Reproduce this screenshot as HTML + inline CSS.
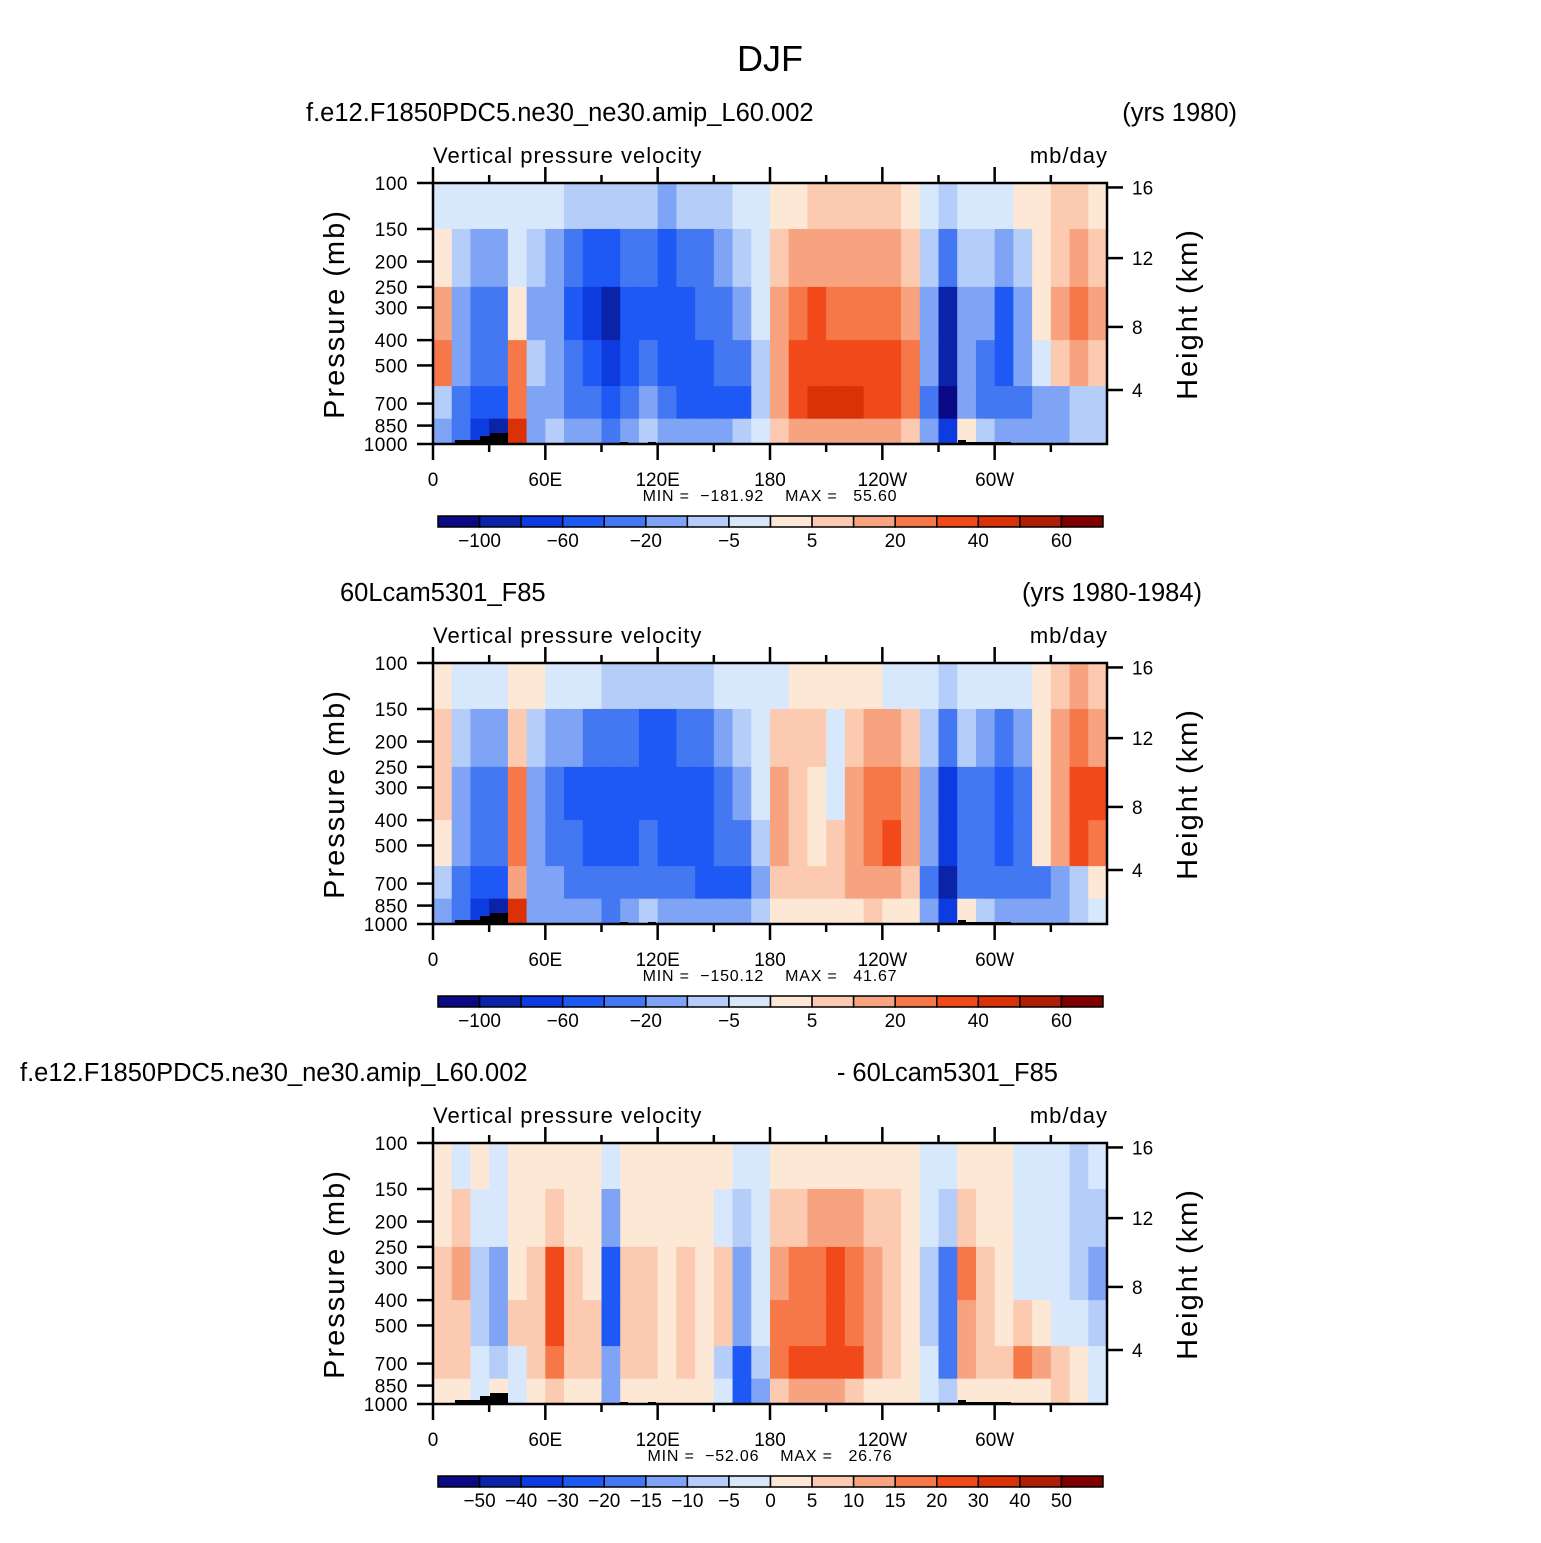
<!DOCTYPE html>
<html><head><meta charset="utf-8">
<style>
html,body{margin:0;padding:0;background:#fff;}
svg text{font-family:"Liberation Sans",sans-serif;fill:#000;}
</style></head>
<body>
<svg id="fig" width="1541" height="1538" xmlns="http://www.w3.org/2000/svg">
<text x="770" y="71" font-size="36" text-anchor="middle">DJF</text>
</svg>
<script>
const lonEdges = [0,10,20,30,40,50,60,70,80,90,100,110,120,130,140,150,160,170,180,190,200,210,220,230,240,250,260,270,280,290,300,310,320,330,340,350,360];
const presEdges = [100,150,250,400,600,800,1000];
const pTicks = [100,150,200,250,300,400,500,700,850,1000];
const hTicks = [16,12,8,4];
const hTickPres = [104,194,356,621];
const lonTickLabels = ["0","60E","120E","180","120W","60W"];
const lonTickVals = [0,60,120,180,240,300];
const levelsA = [-100,-80,-60,-40,-20,-10,-5,0,5,10,20,30,40,50,60];
const levelLabelsA = ["-100","-60","-20","-5","5","20","40","60"];
const levelsB = [-50,-40,-30,-20,-15,-10,-5,0,5,10,15,20,30,40,50];
const colors = ["#0a0a87","#0a23a8","#0d3be0","#1e58f5","#4478f2","#7fa3f5","#b5cef9","#d8e8fc","#fde7d5","#fbcab0","#f8a37f","#f67747","#f2491a","#d93206","#b01e04","#800000"];

const topR0=[-3,-3,-3,-3,-3,-3,-3,-7,-7,-7,-7,-7,-12,-7,-7,-7,-3,-3,3,3,7,7,7,7,7,3,-3,-7,-3,-3,-3,3,3,7,7,3];
const topR1=[3,-7,-15,-15,-3,-7,-15,-30,-50,-50,-30,-30,-50,-30,-30,-15,-7,-3,7,15,15,15,15,15,15,7,-7,-30,-7,-7,-15,-7,3,7,15,7];
const topR2=[15,-15,-30,-30,3,-15,-15,-50,-70,-90,-45,-45,-50,-45,-30,-30,-15,-3,15,25,35,25,25,25,25,15,-15,-90,-15,-15,-45,-15,3,15,25,15];
const topR3=[25,-15,-35,-35,25,-7,-15,-35,-50,-70,-45,-35,-45,-50,-45,-35,-30,-7,15,35,35,35,35,35,35,25,-15,-90,-15,-30,-45,-15,-3,7,15,7];
const topR4=[-7,-30,-50,-50,25,-15,-15,-35,-30,-45,-35,-15,-35,-45,-45,-55,-50,-7,15,35,45,45,45,35,35,25,-30,-110,-15,-30,-30,-30,-15,-15,-7,-7];
const topR5=[-15,-35,-70,-90,45,-15,-7,-15,-15,-30,-15,-7,-15,-15,-15,-15,-7,-3,7,15,15,15,15,15,15,7,-15,-70,3,-7,-15,-15,-15,-15,-7,-7];

const midR0=[3,-3,-3,-3,3,3,-3,-3,-3,-7,-7,-7,-7,-7,-7,-3,-3,-3,-3,3,3,3,3,3,-3,-3,-3,-7,-3,-3,-3,-3,3,7,15,7];
const midR1=[7,-7,-15,-15,7,-7,-15,-15,-30,-30,-30,-45,-45,-30,-30,-15,-7,-3,7,7,7,-3,7,15,15,7,-7,-30,-7,-15,-30,-15,3,15,25,15];
const midR2=[7,-15,-30,-30,25,-15,-30,-45,-45,-55,-45,-55,-50,-45,-45,-30,-15,-3,15,7,3,-3,15,25,25,15,-15,-70,-30,-30,-45,-30,3,15,35,35];
const midR3=[3,-15,-35,-35,25,-15,-30,-35,-45,-55,-45,-40,-45,-50,-45,-35,-30,-7,15,7,3,7,15,25,30,15,-15,-70,-30,-30,-45,-30,3,15,30,25];
const midR4=[-7,-30,-50,-50,15,-15,-15,-35,-30,-40,-35,-30,-35,-40,-45,-50,-45,-15,7,7,7,7,15,15,15,7,-30,-100,-30,-30,-40,-40,-30,-15,-7,3];
const midR5=[-15,-35,-70,-90,40,-15,-15,-15,-15,-30,-15,-7,-15,-15,-15,-20,-15,-7,3,3,3,3,3,7,3,3,-15,-70,3,-7,-15,-15,-15,-15,-7,-3];

const difR0=[3,-3,3,-3,3,3,3,3,3,-3,3,3,3,3,3,3,-3,-3,3,3,3,3,3,3,3,3,-3,-3,3,3,3,-3,-3,-3,-7,-3];
const difR1=[3,7,-3,-3,3,3,7,3,3,-15,3,3,3,3,3,-3,-7,-3,7,7,12,12,12,7,7,3,-3,-7,7,3,3,-3,-3,-3,-7,-7];
const difR2=[7,12,-7,-12,3,7,25,7,3,-30,7,7,3,7,3,7,-15,-3,12,15,17,22,17,12,7,3,-7,-20,17,7,3,-3,-3,-3,-7,-12];
const difR3=[7,7,-7,-12,7,7,25,7,7,-25,7,7,3,7,3,7,-15,-3,15,17,17,22,17,12,7,3,-7,-20,12,7,3,7,3,-3,-3,-7];
const difR4=[7,7,-3,-7,-3,7,17,7,7,-12,7,7,3,7,3,-7,-25,-7,15,25,25,25,22,12,7,3,-3,-20,12,7,7,15,12,7,3,-3];
const difR5=[3,3,-3,3,-3,3,7,3,3,-15,3,3,3,3,3,-3,-25,-12,7,12,12,12,7,3,3,3,-3,-7,3,3,3,3,3,7,3,-3];

const NS="http://www.w3.org/2000/svg";
const svg=document.getElementById('fig');
function mk(tag,attrs,parent){const e=document.createElementNS(NS,tag);for(const k in attrs)e.setAttribute(k,attrs[k]);(parent||svg).appendChild(e);return e;}
function txt(s,x,y,size,anchor,parent){const t=mk('text',{x:x,y:y,'font-size':size,'text-anchor':anchor||'start'},parent);t.textContent=s;return t;}

const X0=433,X1=1107,PH=261;
function xs(lon){return X0+(lon/360)*(X1-X0);}
function colorOf(v,levels){let i=0;while(i<levels.length&&v>=levels[i])i++;return colors[i];}

function panel(key,y0,rows,levels,labels,t1,t1x,t2,t2x,mn,mx){
  const ys=p=>y0+Math.log(p/100)/Math.log(10)*PH;
  const g=mk('g',{});
  
  
  const tl=txt(t1,t1x,y0-62,25.5,'start',g);
  
  
  const tr=txt(t2,t2x,y0-62,25.5,'end',g);
  
  
  const vl=txt('Vertical pressure velocity',433,y0-20,22,'start',g);
  vl.setAttribute('letter-spacing','1');
  
  
  const ul=txt('mb/day',1108,y0-20,22,'end',g);
  ul.setAttribute('letter-spacing','1');
  
  
  for(let r=0;r<rows.length;r++){
    for(let c=0;c<rows[r].length;c++){
      const xa=xs(lonEdges[c]),xb=xs(lonEdges[c+1]);
      const ya=ys(presEdges[r]),yb=ys(presEdges[r+1]);
      const cell=mk('rect',{x:xa,y:ya,width:xb-xa+0.6,height:yb-ya+0.6,fill:colorOf(rows[r][c],levels)},g);
      
      
    }
  }
  const topo=[[455,4,25],[480,8,10],[490,11,18],[620,2,8],[648,2,8],[958,4,8],[966,2,45]];
  topo.forEach(t=>{const r=mk('rect',{x:t[0],y:y0+PH-t[1],width:t[2],height:t[1],fill:'#000'},g);
    
    });
  const fr=mk('rect',{x:X0,y:y0,width:X1-X0,height:PH,fill:'none',stroke:'#000','stroke-width':2.5},g);
  
  
  pTicks.forEach(p=>{const y=ys(p);mk('line',{x1:417,x2:X0,y1:y,y2:y,stroke:'#000','stroke-width':2.5},g);
    const t=txt(String(p),408,y+7,19,'end',g);
    t.setAttribute('letter-spacing','0.5');
    
    });
  const pl=txt('Pressure  (mb)',0,0,29,'middle',g);
  pl.setAttribute('letter-spacing','2');
  pl.setAttribute('transform','translate(344,'+(y0+131)+') rotate(-90)');
  
  
  hTicks.forEach((h,i)=>{const y=ys(hTickPres[i]);mk('line',{x1:X1,x2:X1+16,y1:y,y2:y,stroke:'#000','stroke-width':2.5},g);
    const t=txt(String(h),1132,y+7,19,'start',g);
    
    });
  const hl=txt('Height  (km)',0,0,29,'middle',g);
  hl.setAttribute('letter-spacing','2');
  hl.setAttribute('transform','translate(1197,'+(y0+131)+') rotate(-90)');
  
  
  for(let lon=0;lon<=330;lon+=30){const x=xs(lon);const major=lon%60==0;
    mk('line',{x1:x,x2:x,y1:y0+PH,y2:y0+PH+(major?16:8),stroke:'#000','stroke-width':2.5},g);
    mk('line',{x1:x,x2:x,y1:y0,y2:y0-(major?16:8),stroke:'#000','stroke-width':2.5},g);}
  lonTickVals.forEach((v,i)=>{const t=txt(lonTickLabels[i],xs(v),y0+PH+42,19,'middle',g);
    
    });
  const mm=txt('MIN =  '+mn+'    MAX =   '+mx,770,y0+PH+57,16,'middle',g);
  mm.setAttribute('letter-spacing','0.8');
  mm.setAttribute('xml:space','preserve');
  mm.setAttribute('style','white-space:pre');
  
  
  const cy=y0+333,cw=(1103-438)/16;
  for(let i=0;i<16;i++){const b=mk('rect',{x:438+i*cw,y:cy,width:cw,height:11,fill:colors[i],stroke:'#000','stroke-width':1.5},g);
    
    }
  const step=labels.length<levels.length?2:1;
  labels.forEach((l,i)=>{const k=step==2?2*i+1:i+1;const t=txt(l.replace('-','\u2212'),438+k*cw,cy+31,19,'middle',g);
    
    });
}
panel('control',183,[topR0,topR1,topR2,topR3,topR4,topR5],levelsA,levelLabelsA,'f.e12.F1850PDC5.ne30_ne30.amip_L60.002',306,'(yrs 1980)',1237,'\u2212181.92','55.60');
panel('test',663,[midR0,midR1,midR2,midR3,midR4,midR5],levelsA,levelLabelsA,'60Lcam5301_F85',340,'(yrs 1980-1984)',1202,'\u2212150.12','41.67');
panel('difference',1143,[difR0,difR1,difR2,difR3,difR4,difR5],levelsB,levelsB.map(String),'f.e12.F1850PDC5.ne30_ne30.amip_L60.002',20,'- 60Lcam5301_F85',1058,'\u221252.06','26.76');
</script>
</body></html>
